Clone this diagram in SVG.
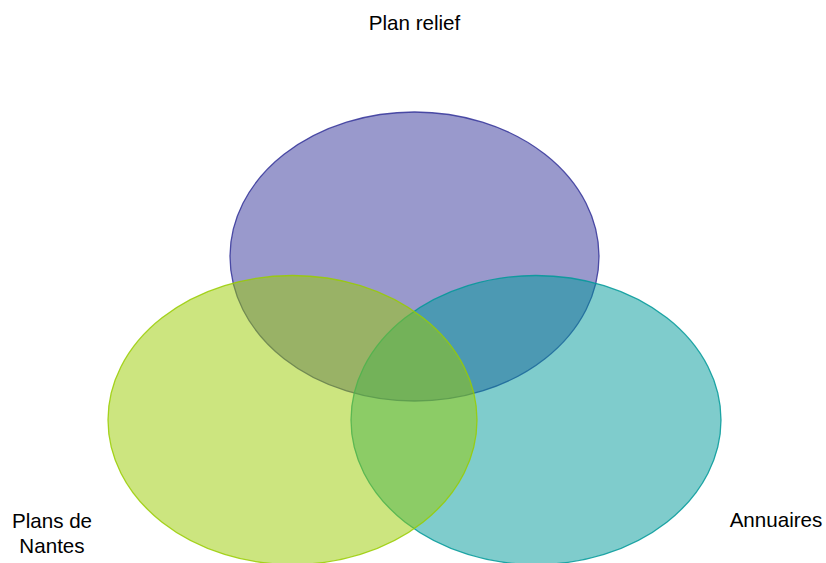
<svg xmlns="http://www.w3.org/2000/svg" width="826" height="563" viewBox="0 0 826 563">
<style>
.t{font-family:"Liberation Sans",Arial,sans-serif;font-size:20.6px;fill:#000;text-anchor:middle}
.c{fill-opacity:0.5;stroke-width:1.3;stroke-opacity:0.85}
</style>
<rect width="826" height="563" fill="#fff"/>
<g id="plan-relief">
<ellipse class="c" cx="414.5" cy="256.5" rx="184.5" ry="144.5" fill="#333399" stroke="#333399"/>
</g>
<g id="annuaires">
<ellipse class="c" cx="536" cy="420" rx="185" ry="144.5" fill="#009999" stroke="#009999"/>
</g>
<g id="plans-de-nantes">
<ellipse class="c" cx="292.5" cy="420" rx="184.5" ry="144.5" fill="#99cc00" stroke="#99cc00"/>
</g>
<g id="connectors"/>
<g id="labels">
<text class="t" x="414.5" y="30">Plan relief</text>
<text class="t" x="776" y="527">Annuaires</text>
<text class="t" x="52" y="528">Plans de</text>
<text class="t" x="52" y="553">Nantes</text>
</g>
</svg>
